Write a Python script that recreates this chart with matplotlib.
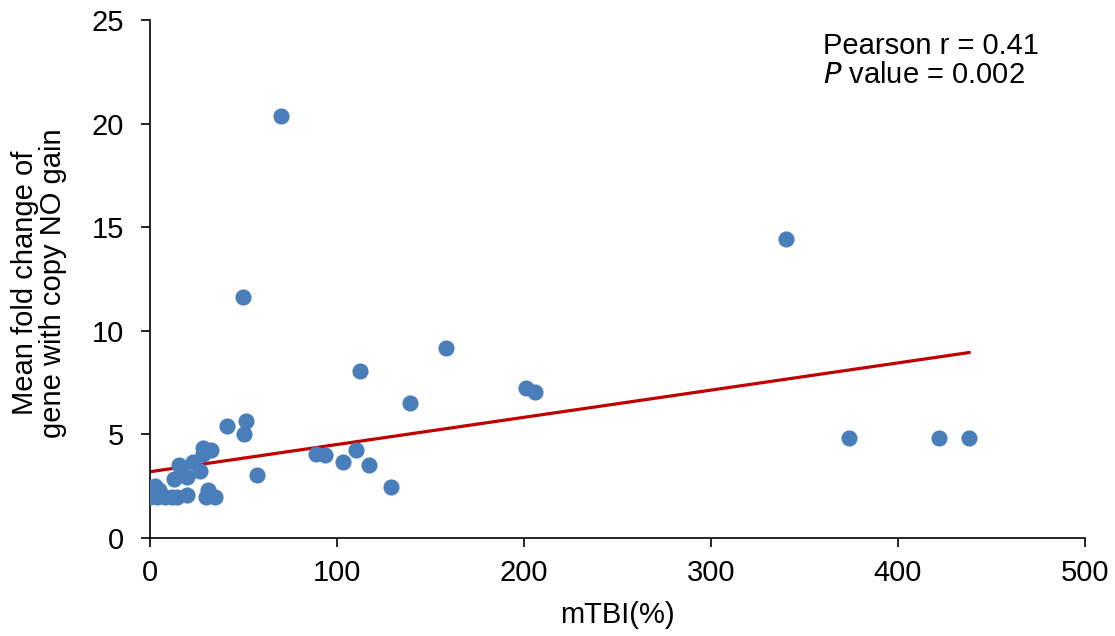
import numpy as np
import matplotlib
matplotlib.use("Agg")
import matplotlib.pyplot as plt

# ======================================================
# Data
# ======================================================

mtbi = [70.1, 340.0, 49.7, 158.3, 112.3, 139.0, 201.0, 206.0,
        51.5, 41.2, 50.3, 28.3, 32.6, 28.3, 88.8, 93.6, 110.0,
        103.0, 117.0, 129.0, 57.0, 15.5, 23.0, 26.7, 18.2, 12.8,
        19.8, 20.0, 31.0, 34.8, 30.0, 0.0, 4.0, 8.0, 12.0, 14.5,
        2.7, 5.0, 373.8, 422.0, 438.0]

foldChange = [20.37, 14.43, 11.63, 9.17, 8.06, 6.5, 7.25, 7.05,
              5.65, 5.4, 5.0, 4.35, 4.25, 4.05, 4.05, 4.0, 4.25,
              3.67, 3.52, 2.46, 3.04, 3.52, 3.67, 3.23, 3.04, 2.85,
              2.95, 2.1, 2.3, 2.0, 2.0, 2.0, 2.0, 2.0, 2.0, 2.0,
              2.5, 2.3, 4.85, 4.85, 4.85]

# linear trend line as drawn in the reference
trendIntercept = 3.2
trendSlope = 0.01313

statLines = ["Pearson r = 0.41", "$\\mathit{P}$ value = 0.002"]

# ======================================================
# Figure
# ======================================================

plt.rcParams["font.family"] = ["Liberation Sans", "DejaVu Sans"]
fs = 21

fig = plt.figure(figsize=(11.15, 6.36), dpi=100)
ax = fig.add_axes([0.1345, 0.154, 0.8385, 0.8146])

x = np.array(mtbi)
y = np.array(foldChange)

ax.scatter(x, y, s=135, color="#4a7ebb", zorder=3, linewidths=0)

xs = np.array([x.min(), x.max()])
ax.plot(xs, trendSlope*xs + trendIntercept, color="#c00000", lw=2.3, zorder=2)

ax.set_xlim(0, 500)
ax.set_ylim(0, 25)
ax.set_xticks(range(0, 501, 100))
ax.set_yticks(range(0, 26, 5))

for side in ["top", "right"]:
    ax.spines[side].set_visible(False)
for side in ["left", "bottom"]:
    ax.spines[side].set_linewidth(1.2)

ax.tick_params(direction="out", length=6.7, width=1.2, labelsize=fs)
ax.tick_params(axis="x", pad=8.5)
ax.tick_params(axis="y", pad=12)

ax.set_xlabel("mTBI(%)", fontsize=fs, va="center")
ax.xaxis.set_label_coords(0.5, -0.149)
ax.set_ylabel("Mean fold change of\ngene with copy NO gain", fontsize=fs,
              va="center", ha="center", linespacing=1.0)
ax.yaxis.set_label_coords(-0.1187, 0.492)

ax.text(0.7196, 0.934, statLines[0], transform=ax.transAxes,
        fontsize=fs, va="baseline", ha="left")
ax.text(0.7196, 0.878, statLines[1], transform=ax.transAxes,
        fontsize=fs, va="baseline", ha="left")

fig.savefig("out.png", dpi=100)
